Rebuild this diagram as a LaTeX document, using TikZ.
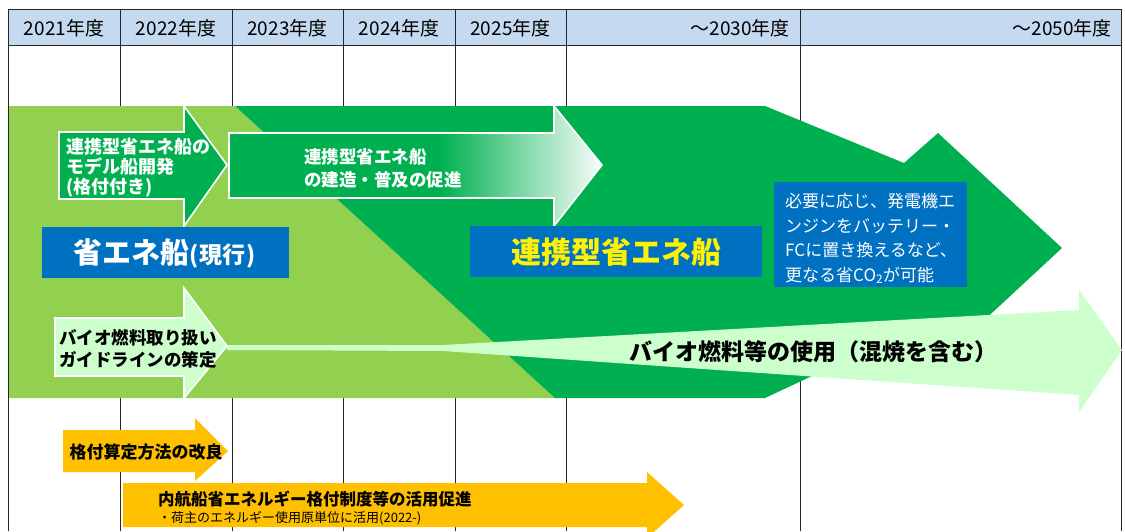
\documentclass[tikz,border=0pt]{standalone}
\usepackage{fontspec}
\setmainfont{Noto Sans CJK JP}
\definecolor{hdblue}{RGB}{197,217,241}
\definecolor{ltgreen}{RGB}{146,208,80}
\definecolor{dkgreen}{RGB}{0,176,80}
\definecolor{palegreen}{RGB}{204,255,204}
\definecolor{boxblue}{RGB}{0,112,192}
\definecolor{amber}{RGB}{255,192,0}
\begin{document}
\begin{tikzpicture}[x=1pt,y=-1pt,
    every node/.style={inner sep=0pt},
    grid/.style={line width=.8pt,black!85},
    yearlabel/.style={font=\fontsize{19}{19}\selectfont},
    outline/.style={draw=white,line width=1.6pt},
    wlabel/.style={text=white,align=left,font=\bfseries\fontsize{18}{20}\selectfont},
    klabel/.style={text=black,align=left,font=\bfseries\fontsize{17.5}{22}\selectfont}]
  \useasboundingbox (0,0) rectangle (1125,531);
  \fill[hdblue] (8,9) rectangle (1121,45);
  \foreach \x in {120,232,343,455,566,800}
    \draw[grid] (\x,9) -- (\x,531);
  \draw[grid] (8,45) -- (1121,45);
  \draw[grid] (8,9) -- (1121,9) -- (1121,531);
  \foreach \x/\yr in {64/2021,176/2022,287.5/2023,399/2024,510.5/2025}
    \node[yearlabel] (fy\yr) at (\x,28) {\yr{}年度};
  \node[yearlabel,anchor=east] (fy2030) at (790,28) {～2030年度};
  \node[yearlabel,anchor=east] (fy2050) at (1112,28) {～2050年度};

  \fill[ltgreen] (8,106) -- (235,106) -- (555,398) -- (8,398) -- cycle;
  \fill[dkgreen] (235,106) -- (765,106) -- (904,163) -- (938,133) -- (1062,248)
    -- (938,363) -- (904,333) -- (765,398) -- (555,398) -- cycle;
  \draw[grid] (8,9) -- (8,531);

  \filldraw[fill=dkgreen,outline] (59,132) -- (184,132) -- (184,106) -- (227,165)
    -- (184,226) -- (184,199) -- (59,199) -- cycle;
  \begin{scope}
    \clip (229,133) -- (554,133) -- (554,106) -- (602,165) -- (554,226) -- (554,198) -- (229,198) -- cycle;
    \fill[dkgreen] (225,100) rectangle (440,240);
    \shade[left color=dkgreen,right color=white] (440,100) rectangle (606,240);
  \end{scope}
  \draw[outline] (229,133) -- (554,133) -- (554,106) -- (602,165) -- (554,226) -- (554,198) -- (229,198) -- cycle;

  \fill[palegreen] (227,345) -- (443,345) -- (1079,310) -- (1079,290) -- (1122,350)
    -- (1079,412) -- (1079,395) -- (443,351) -- (227,350) -- cycle;
  \filldraw[fill=palegreen,outline] (55,318) -- (184,318) -- (184,288) -- (227,346)
    -- (184,398) -- (184,376) -- (55,376) -- cycle;

  \fill[boxblue] (41.5,227) rectangle (288.5,277.5);
  \fill[boxblue] (470,226) rectangle (762,277);
  \fill[boxblue] (774,182) rectangle (967,287);

  \fill[amber] (63,430) -- (195,430) -- (195,418) -- (228,451) -- (195,481)
    -- (195,472) -- (63,472) -- cycle;
  \fill[amber] (123,483) -- (647,483) -- (647,472) -- (684,505) -- (647,538)
    -- (647,527) -- (123,527) -- cycle;

  \node[wlabel,anchor=west] (model) at (66,167.5) {連携型省エネ船の\\モデル船開発\\(格付付き)};
  \node[wlabel,anchor=west,font=\bfseries\fontsize{17.5}{23}\selectfont] (build) at (304,168.5) {連携型省エネ船\\の建造・普及の促進};
  \node[text=white,font=\bfseries] (current) at (165,253) {\fontsize{29}{29}\selectfont 省エネ船\fontsize{23}{23}\selectfont(\kern1pt 現行\kern1pt)};
  \node[text=yellow,font=\bfseries\fontsize{30}{30}\selectfont] (linked) at (616,252) {連携型省エネ船};
  \node[text=white,align=left,anchor=west,font=\fontsize{17}{24.5}\selectfont] (battery) at (785,238.5)
    {必要に応じ、発電機エ\\ンジンをバッテリー・\\FCに置き換えるなど、\\更なる省CO\textsubscript{2}が可能};
  \node[klabel,anchor=west] (guide) at (59,349) {バイオ燃料取り扱い\\ガイドラインの策定};
  \node[font=\bfseries\fontsize{23}{23}\selectfont] (biofuel) at (813,352) {バイオ燃料等の使用（混焼を含む）};
  \node[font=\bfseries\fontsize{17}{17}\selectfont] (rating) at (146,452) {格付算定方法の改良};
  \node[anchor=west,font=\bfseries\fontsize{16.5}{16.5}\selectfont] (promote) at (158,499) {内航船省エネルギー格付制度等の活用促進};
  \node[anchor=west,font=\fontsize{13}{13}\selectfont] (shipper) at (158,518) {・荷主のエネルギー使用原単位に活用(2022-)};
\end{tikzpicture}
\end{document}
